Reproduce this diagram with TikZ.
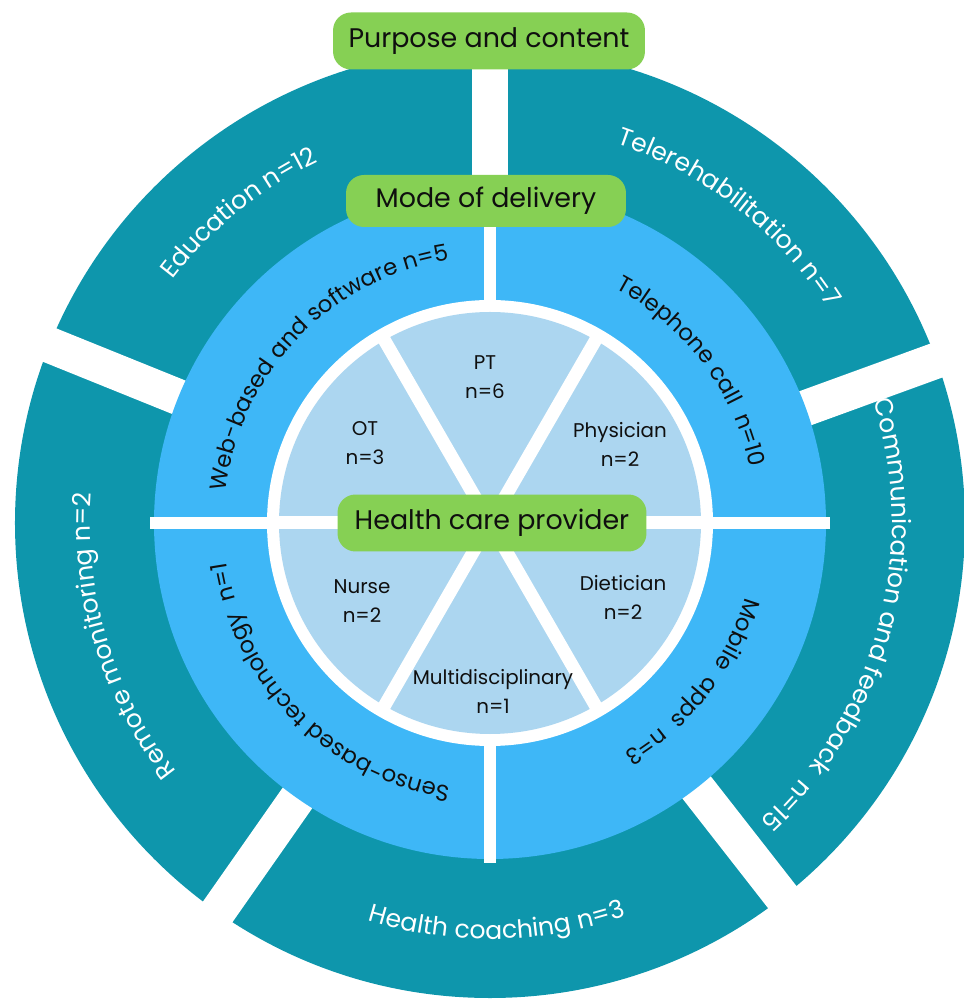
\documentclass[tikz,border=0pt]{standalone}
\usepackage{fontspec}
\setmainfont{Poppins}
\usetikzlibrary{decorations.text}

\definecolor{ringteal}{RGB}{14,150,172}
\definecolor{ringblue}{RGB}{62,183,247}
\definecolor{pielight}{RGB}{172,214,240}
\definecolor{capgreen}{RGB}{134,208,84}
\definecolor{inktext}{RGB}{15,15,15}

\newcommand{\outerfont}{\fontsize{14.3}{17}\selectfont\color{white}}
\newcommand{\midfont}{\fontsize{13}{15}\selectfont\color{inktext}}

\begin{document}
\begin{tikzpicture}[x=0.02cm, y=0.02cm,
    caption/.style={rounded corners=0.36cm, fill=capgreen, text=inktext,
      font=\fontsize{15.3}{18}\selectfont, inner sep=0pt},
    role/.style={align=center, text=inktext, font=\fontsize{11.3}{16.5}\selectfont},
    arclabel/.style={decorate, decoration={text along path, text align=center, text={#1}}}]
  \useasboundingbox (-490,-476) rectangle (473,523);

  % outer ring: purpose and content
  \fill[ringteal] (0,0) circle[radius=475];
  \foreach \a in {90,20,-52,-125,158}
    \draw[white, line width=0.72cm] (0,0) -- (\a:520);

  % middle ring: mode of delivery
  \fill[ringblue] (0,0) circle[radius=336];
  \foreach \a in {0,90}
    \draw[white, line width=0.24cm] (\a:340) -- (\a+180:340);
  \fill[white] (0,0) circle[radius=223];

  % inner pie: health care provider
  \fill[pielight] (0,0) circle[radius=211];
  \foreach \a in {0,60,120}
    \draw[white, line width=0.26cm] (\a:215) -- (\a+180:215);

  % outer labels
  \path[arclabel={|\outerfont|Education n=12}] (164:400) arc[start angle=164, end angle=94, radius=400];
  \path[arclabel={|\outerfont|Telerehabilitation n=7}] (87:400) arc[start angle=87, end angle=17, radius=400];
  \path[arclabel={|\outerfont|Communication and feedback{\ }{\ }n=15}] (20:402) arc[start angle=20, end angle=-50, radius=402];
  \path[arclabel={|\outerfont|Health coaching n=3}] (-124:416) arc[start angle=-124, end angle=-54, radius=416];
  \path[arclabel={|\outerfont|Remote monitoring n=2}] (-128:400) arc[start angle=-128, end angle=-198, radius=400];

  % middle labels
  \path[arclabel={|\midfont|Web-based and software n=5}] (176:266) arc[start angle=176, end angle=96, radius=266];
  \path[arclabel={|\midfont|Telephone call{\ }{\ }n=10}] (82:266) arc[start angle=82, end angle=-8, radius=266];
  \path[arclabel={|\midfont|Mobile{\ }{\ }apps{\ }{\ }n=3}] (8:266) arc[start angle=8, end angle=-84, radius=266];
  \path[arclabel={|\midfont|Senso-based technology{\ }{\ }n=1}] (-92:266) arc[start angle=-92, end angle=-178, radius=266];

  % providers
  \node[role] (pt) at (-5,146) {PT\\n=6};
  \node[role] (ot) at (-125,80) {OT\\n=3};
  \node[role] (physician) at (130,79) {Physician\\n=2};
  \node[role] (nurse) at (-128,-78) {Nurse\\n=2};
  \node[role] (dietician) at (133,-74) {Dietician\\n=2};
  \node[role] (multi) at (3,-168) {Multidisciplinary\\n=1};

  % captions
  \node[caption, minimum width=6.24cm, minimum height=1.14cm] (purpose) at (-1,482) {Purpose and content};
  \node[caption, minimum width=5.6cm, minimum height=1.04cm] (delivery) at (-4,322) {Mode of delivery};
  \node[caption, minimum width=6.18cm, minimum height=1.14cm] (provider) at (2,0) {Health care provider};
\end{tikzpicture}
\end{document}
